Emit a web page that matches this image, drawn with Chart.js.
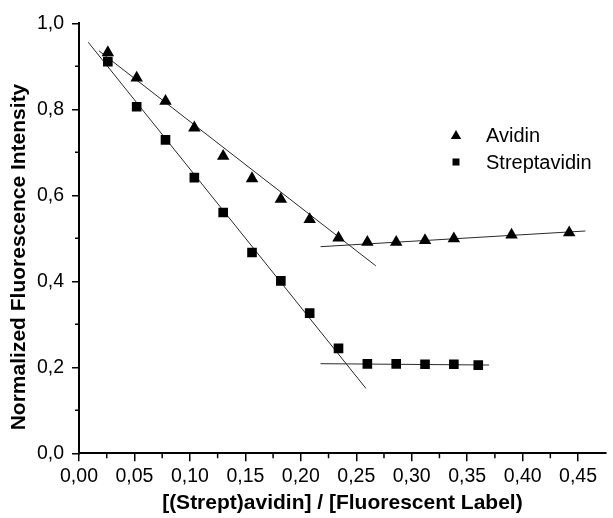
<!DOCTYPE html>
<html>
<head>
<meta charset="utf-8">
<script src="https://cdn.jsdelivr.net/npm/chart.js@4.4.1/dist/chart.umd.min.js"></script>
<style>
  html, body { margin: 0; padding: 0; background: #fff; }
  #wrap { width: 613px; height: 518px; }
</style>
</head>
<body>
<div id="wrap"><canvas id="myChart"></canvas></div>
<script>
// data
const avidinX = [0.026, 0.052, 0.078, 0.104, 0.13, 0.156, 0.182, 0.208, 0.234, 0.26, 0.286, 0.312, 0.338, 0.39, 0.442];
const avidinY = [0.932, 0.873, 0.819, 0.757, 0.691, 0.639, 0.591, 0.544, 0.501, 0.491, 0.491, 0.495, 0.499, 0.508, 0.513];
const streptX = [0.026, 0.052, 0.078, 0.104, 0.13, 0.156, 0.182, 0.208, 0.234, 0.26, 0.286, 0.312, 0.338, 0.36];
const streptY = [0.911, 0.806, 0.729, 0.641, 0.560, 0.467, 0.401, 0.326, 0.244, 0.208, 0.208, 0.207, 0.207, 0.205];

// fitted lines (end points)
const avidinFitX = [0.018, 0.2676];
const avidinFitY = [0.936, 0.436];
const avidinFlatX = [0.2178, 0.4566];
const avidinFlatY = [0.4805, 0.517];
const streptFitX = [0.0083, 0.2587];
const streptFitY = [0.956, 0.151];
const streptFlatX = [0.2178, 0.3698];
const streptFlatY = [0.2084, 0.2053];

const xTicks = [0, 0.05, 0.10, 0.15, 0.20, 0.25, 0.30, 0.35, 0.40, 0.45];
const yTicks = [0, 0.2, 0.4, 0.6, 0.8, 1.0];
const xMinor = [0.025, 0.075, 0.125, 0.175, 0.225, 0.275, 0.325, 0.375, 0.425];
const yMinor = [0.1, 0.3, 0.5, 0.7, 0.9];

const seriesNames = ['Avidin', 'Streptavidin'];
const xTitle = '[(Strept)avidin] / [Fluorescent Label)';
const yTitle = 'Normalized Fluorescence Intensity';

const FONT = '"Liberation Sans", Arial, sans-serif';

function pts(xs, ys) {
  return xs.map((x, i) => ({x: x, y: ys[i]}));
}
function comma(v, d) {
  return v.toFixed(d).replace('.', ',');
}

function fitLine(xs, ys) {
  return {
    data: pts(xs, ys),
    showLine: true,
    borderColor: '#2a2a2a',
    borderWidth: 1,
    pointRadius: 0,
    order: 2
  };
}

// minor ticks, y title and the legend
const extras = {
  id: 'extras',
  afterDraw(chart) {
    const ctx = chart.ctx;
    const xs = chart.scales.x, ys = chart.scales.y;
    ctx.save();
    ctx.strokeStyle = '#000';
    ctx.lineWidth = 1.5;
    ctx.beginPath();
    xMinor.forEach(v => {
      const px = xs.getPixelForValue(v);
      ctx.moveTo(px, xs.top);
      ctx.lineTo(px, xs.top + 5);
    });
    yMinor.forEach(v => {
      const py = ys.getPixelForValue(v);
      ctx.moveTo(ys.right, py);
      ctx.lineTo(ys.right - 4, py);
    });
    ctx.stroke();

    // y axis title
    ctx.fillStyle = '#000';
    ctx.font = 'bold 21px ' + FONT;
    ctx.textAlign = 'center';
    ctx.textBaseline = 'middle';
    ctx.translate(19, 257);
    ctx.rotate(-Math.PI / 2);
    ctx.fillText(yTitle, 0, 0);
    ctx.restore();

    // legend
    ctx.save();
    ctx.fillStyle = '#000';
    const lx = 456;
    ctx.beginPath();
    ctx.moveTo(lx, 136 - 6);
    ctx.lineTo(lx + 5.2, 136 + 3);
    ctx.lineTo(lx - 5.2, 136 + 3);
    ctx.closePath();
    ctx.fill();
    ctx.fillRect(lx - 3.5, 162 - 3.5, 7, 7);
    ctx.font = '20px ' + FONT;
    ctx.textAlign = 'left';
    ctx.textBaseline = 'middle';
    ctx.fillText(seriesNames[0], 486, 136);
    ctx.fillText(seriesNames[1], 486, 163);
    ctx.restore();
  }
};

const ctx = document.getElementById('myChart').getContext('2d');
const myChart = new Chart(ctx, {
  type: 'scatter',
  data: {
    datasets: [
      {
        label: seriesNames[0],
        data: pts(avidinX, avidinY),
        pointStyle: 'triangle',
        pointRadius: 7.2,
        backgroundColor: '#000',
        borderWidth: 0,
        order: 1
      },
      {
        label: seriesNames[1],
        data: pts(streptX, streptY),
        pointStyle: 'rect',
        pointRadius: 6.8,
        backgroundColor: '#000',
        borderWidth: 0,
        order: 1
      },
      fitLine(avidinFitX, avidinFitY),
      fitLine(avidinFlatX, avidinFlatY),
      fitLine(streptFitX, streptFitY),
      fitLine(streptFlatX, streptFlatY)
    ]
  },
  options: {
    responsive: true,
    maintainAspectRatio: false,
    animation: false,
    layout: { padding: { top: 23.3, right: 0, left: 0, bottom: 0 } },
    plugins: {
      legend: { display: false },
      tooltip: { enabled: false }
    },
    scales: {
      x: {
        type: 'linear',
        min: 0,
        max: 0.475,
        afterBuildTicks: (scale) => { scale.ticks = xTicks.map(v => ({value: v})); },
        afterFit: (scale) => { scale.height = 64.7; },
        border: { display: true, color: '#000', width: 2 },
        grid: { drawOnChartArea: false, drawTicks: true, tickLength: 8, color: '#000', lineWidth: 1.5 },
        ticks: {
          padding: 3.5,
          color: '#000',
          font: { family: FONT, size: 19.5 },
          callback: (v) => comma(v, 2)
        },
        title: {
          display: true,
          text: xTitle,
          color: '#000',
          font: { family: FONT, size: 21, weight: 'bold' },
          padding: { top: 0, bottom: 2 }
        }
      },
      y: {
        type: 'linear',
        min: 0,
        max: 1,
        afterBuildTicks: (scale) => { scale.ticks = yTicks.map(v => ({value: v})); },
        afterFit: (scale) => { scale.width = 79; },
        border: { display: true, color: '#000', width: 2 },
        grid: { drawOnChartArea: false, drawTicks: true, tickLength: 7, color: '#000', lineWidth: 1.5 },
        ticks: {
          padding: 8,
          color: '#000',
          font: { family: FONT, size: 19.5 },
          callback: (v) => comma(v, 1)
        }
      }
    }
  },
  plugins: [extras]
});
</script>
</body>
</html>
